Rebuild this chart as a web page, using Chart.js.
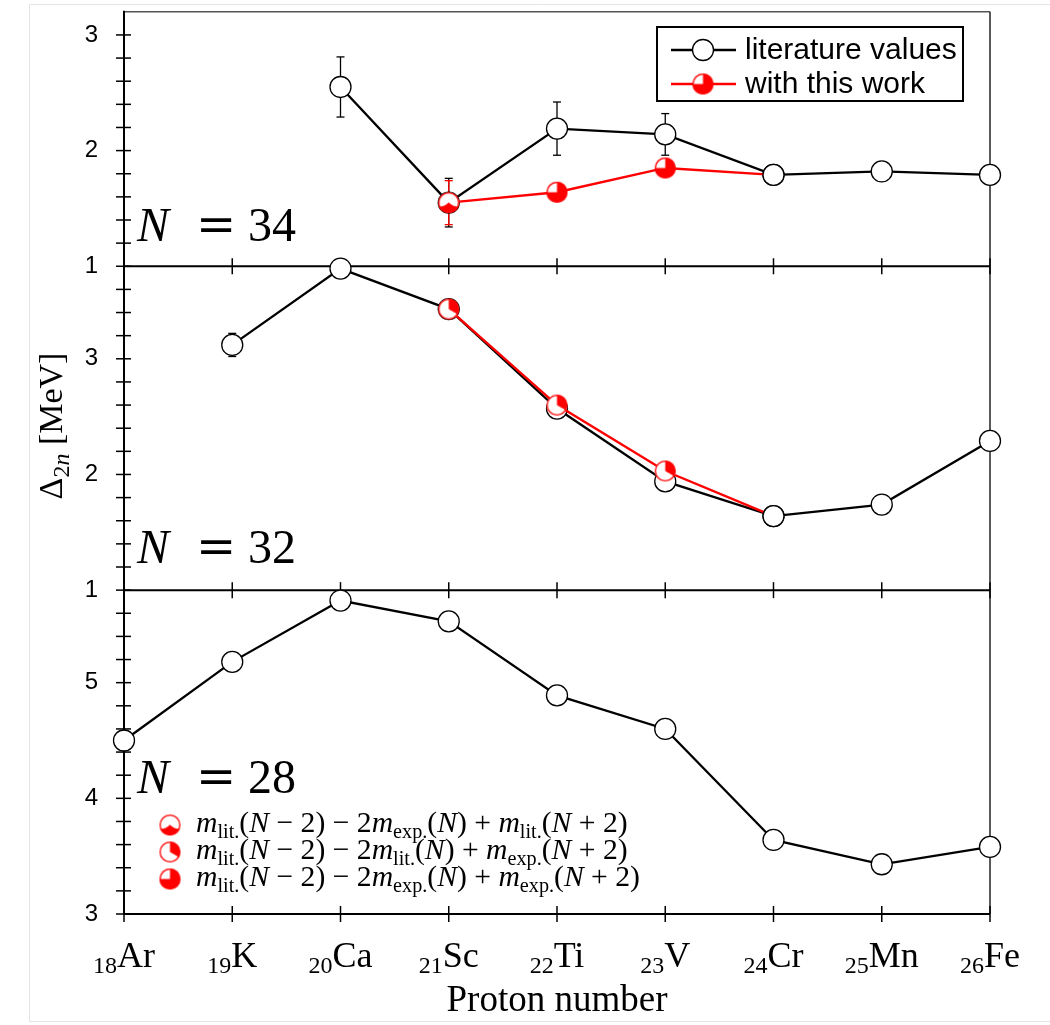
<!DOCTYPE html>
<html>
<head>
<meta charset="utf-8">
<title>Two-neutron shell gap</title>
<script src="https://cdn.jsdelivr.net/npm/chart.js@4.4.1/dist/chart.umd.min.js"></script>
<style>
  html, body { margin: 0; padding: 0; background: #fff; }
  canvas { display: block; }
</style>
</head>
<body>
<canvas id="c" width="1050" height="1025"></canvas>
<script>
// ---- data -------------------------------------------------------------
const protonNumbers = [18, 19, 20, 21, 22, 23, 24, 25, 26];
const elementSymbols = ['Ar', 'K', 'Ca', 'Sc', 'Ti', 'V', 'Cr', 'Mn', 'Fe'];

// N = 34
const lit34 = [null, null, 2.55, 1.55, 2.19, 2.14, 1.79, 1.82, 1.79];
const lit34Err = [0, 0, 0.26, 0.21, 0.23, 0.18, 0, 0, 0];
const work34 = [null, null, null, 1.55, 1.64, 1.85, 1.79, null, null];
const work34Err = [0, 0, 0, 0.19, 0, 0, 0, 0, 0];
const work34Kind = [null, null, null, 'A', 'C', 'C', null, null, null];

// N = 32
const lit32 = [null, 3.12, 3.78, 3.43, 2.57, 1.94, 1.64, 1.74, 2.29];
const lit32Err = [0, 0.10, 0, 0, 0.03, 0, 0, 0, 0];
const work32 = [null, null, null, 3.43, 2.60, 2.03, 1.64, null, null];
const work32Kind = [null, null, null, 'B', 'B', 'B', null, null, null];

// N = 28
const lit28 = [4.50, 5.18, 5.71, 5.53, 4.89, 4.60, 3.64, 3.43, 3.58];

// axis ranges of the three stacked panels (top to bottom)
const panelIds = ['y34', 'y32', 'y28'];
const panelRanges = { y34: [1, 3.2], y32: [1, 3.8], y28: [3, 5.8] };
const panelNumbers = { y34: '34', y32: '32', y28: '28' };

// ---- styling ------------------------------------------------------------
const RED = '#ff0000';
const BLACK = '#000000';
const R = 10.5;
const SERIF = '"Liberation Serif", "Times New Roman", serif';
const SANS = '"Liberation Sans", Arial, sans-serif';

// partially filled red markers used for the new values
function makeMarker(kind, r) {
  const s = Math.ceil(2 * r + 4);
  const c = document.createElement('canvas');
  c.width = s; c.height = s;
  const g = c.getContext('2d');
  const cx = s / 2, cy = s / 2;
  g.beginPath(); g.arc(cx, cy, r, 0, 2 * Math.PI);
  g.fillStyle = kind === 'C' ? RED : '#fff'; g.fill();
  g.save();
  g.beginPath(); g.arc(cx, cy, r, 0, 2 * Math.PI); g.clip();
  if (kind === 'A') {
    g.beginPath();
    g.moveTo(cx - r, cy + 0.38 * r);
    g.quadraticCurveTo(cx - 0.35 * r, cy + 0.38 * r, cx, cy - 0.02 * r);
    g.quadraticCurveTo(cx + 0.35 * r, cy + 0.38 * r, cx + r, cy + 0.38 * r);
    g.lineTo(cx + r, cy + r); g.lineTo(cx - r, cy + r); g.closePath();
    g.fillStyle = RED; g.fill();
  } else if (kind === 'B') {
    g.beginPath(); g.moveTo(cx, cy);
    g.arc(cx, cy, r, -Math.PI / 2, Math.PI / 6); g.closePath();
    g.fillStyle = RED; g.fill();
  } else if (kind === 'C') {
    g.beginPath(); g.moveTo(cx, cy);
    g.arc(cx, cy, r, Math.PI, 1.5 * Math.PI); g.closePath();
    g.fillStyle = '#fff'; g.fill();
  }
  g.restore();
  g.beginPath(); g.arc(cx, cy, r - 0.6, 0, 2 * Math.PI);
  g.lineWidth = 1.3; g.strokeStyle = RED; g.stroke();
  return c;
}
const markers = { A: makeMarker('A', R), B: makeMarker('B', R), C: makeMarker('C', R) };

function toPoints(values) {
  return protonNumbers.map((z, i) => ({ x: z, y: values[i] }));
}

// indices where a red curve ends on a literature point without its own marker
function coveredIndices(work, kinds) {
  return work.map((v, i) => (v !== null && !kinds[i]) ? i : -1).filter(i => i >= 0);
}

function litDataset(label, values, errors, axis, cover) {
  return {
    label, data: toPoints(values), yAxisID: axis, errors,
    borderColor: BLACK, borderWidth: 2.3, backgroundColor: '#fff',
    pointStyle: 'circle', pointRadius: R, pointBackgroundColor: '#fff',
    pointBorderColor: BLACK, pointBorderWidth: 1.3,
    tension: 0, clip: false, order: 2, redrawPoints: cover || []
  };
}
function workDataset(label, values, errors, kinds, axis) {
  return {
    label, data: toPoints(values), yAxisID: axis, errors,
    borderColor: RED, borderWidth: 2.4, backgroundColor: RED,
    pointStyle: kinds.map(k => k ? markers[k] : 'circle'),
    pointRadius: kinds.map(k => k ? R : 0),
    tension: 0, clip: false, order: 1
  };
}

const datasets = [
  litDataset('literature values N=34', lit34, lit34Err, 'y34', coveredIndices(work34, work34Kind)),
  workDataset('with this work N=34', work34, work34Err, work34Kind, 'y34'),
  litDataset('literature values N=32', lit32, lit32Err, 'y32', coveredIndices(work32, work32Kind)),
  workDataset('with this work N=32', work32, null, work32Kind, 'y32'),
  litDataset('literature values N=28', lit28, null, 'y28', [])
];

function yScale(id, weight, stackWeight) {
  const [lo, hi] = panelRanges[id];
  return {
    type: 'linear', position: 'left', stack: 'panels', stackWeight, weight,
    min: lo, max: hi, offset: false,
    grid: { display: false, drawTicks: false },
    border: { display: false },
    ticks: {
      stepSize: 0.2, maxTicksLimit: 100, autoSkip: false, padding: 26,
      color: BLACK, font: { family: SANS, size: 24 },
      callback: v => (Math.abs(v - Math.round(v)) < 1e-6 && v < hi - 1e-6) ? String(Math.round(v)) : ''
    },
    afterFit: s => { s.width = 86; s.paddingTop = 0; s.paddingBottom = 0; }
  };
}

// ---- drawing helpers ---------------------------------------------------
function seg(ctx, x1, y1, x2, y2) {
  ctx.beginPath(); ctx.moveTo(x1, y1); ctx.lineTo(x2, y2); ctx.stroke();
}
// runs: [text, font, baselineShift]
function runsWidth(ctx, runs) {
  let w = 0;
  runs.forEach(r => { ctx.font = r[1]; w += ctx.measureText(r[0]).width; });
  return w;
}
function drawRuns(ctx, runs, x, y, align) {
  const w = runsWidth(ctx, runs);
  let cx = align === 'center' ? x - w / 2 : x;
  ctx.textAlign = 'left';
  ctx.textBaseline = 'alphabetic';
  runs.forEach(r => {
    ctx.font = r[1];
    ctx.fillText(r[0], cx, y + (r[2] || 0));
    cx += ctx.measureText(r[0]).width;
  });
  return w;
}
function openCircle(ctx, x, y, r) {
  ctx.beginPath(); ctx.arc(x, y, r, 0, 2 * Math.PI);
  ctx.fillStyle = '#fff'; ctx.fill();
  ctx.lineWidth = 1.3; ctx.strokeStyle = BLACK; ctx.stroke();
}
function formulaRuns(f, a, b, c) {
  const it = `italic ${f}px ${SERIF}`, rm = `${f}px ${SERIF}`, sb = `${(0.68 * f).toFixed(1)}px ${SERIF}`;
  const d = 0.2 * f;
  return [
    ['m', it], [a, sb, d], ['(', rm], ['N', it], [' \u2212 2) \u2212 2', rm],
    ['m', it], [b, sb, d], ['(', rm], ['N', it], [') + ', rm],
    ['m', it], [c, sb, d], ['(', rm], ['N', it], [' + 2)', rm]
  ];
}
const formulaRows = [
  ['A', 'lit.', 'exp.', 'lit.'],
  ['B', 'lit.', 'lit.', 'exp.'],
  ['C', 'lit.', 'exp.', 'exp.']
];

// ---- plugins -----------------------------------------------------------
const panelFrame = {
  id: 'panelFrame',
  beforeDraw(chart) {
    // thin page border around the figure
    const { ctx } = chart;
    ctx.save();
    ctx.strokeStyle = '#e4e4e4'; ctx.lineWidth = 1;
    seg(ctx, 29.5, 4.5, 29.5, 1021.5);
    seg(ctx, 29.5, 4.5, 1050, 4.5);
    seg(ctx, 29.5, 1021.5, 1050, 1021.5);
    ctx.restore();
  },
  beforeDatasetsDraw(chart) {
    const { ctx, chartArea: a } = chart;
    const xs = chart.scales.x;
    ctx.save();
    ctx.lineCap = 'butt';
    ctx.strokeStyle = '#555'; ctx.lineWidth = 1.5;
    seg(ctx, a.left, a.top, a.right, a.top);
    ctx.strokeStyle = '#222';
    seg(ctx, a.right, a.top, a.right, a.bottom);
    ctx.strokeStyle = BLACK; ctx.lineWidth = 2;
    seg(ctx, a.left, a.top - 1, a.left, a.bottom + 1);
    panelIds.forEach(id => {
      const s = chart.scales[id];
      ctx.lineWidth = 2;
      seg(ctx, a.left, s.bottom, a.right, s.bottom);
      ctx.lineWidth = 1.5;
      s.ticks.forEach(t => {
        if (t.value >= s.max - 1e-9) return;
        const y = s.getPixelForValue(t.value);
        seg(ctx, a.left - 8, y, a.left + 7, y);
      });
      xs.ticks.forEach(t => {
        const x = xs.getPixelForValue(t.value);
        seg(ctx, x, s.bottom - 8, x, s.bottom + 8);
      });
    });
    // error bars sit under the markers
    chart.data.datasets.forEach((ds, di) => {
      if (!ds.errors) return;
      const meta = chart.getDatasetMeta(di);
      const ys = chart.scales[ds.yAxisID];
      ctx.strokeStyle = ds.borderColor; ctx.lineWidth = 1.3;
      ds.data.forEach((p, i) => {
        const e = ds.errors[i];
        if (p.y === null || !e) return;
        const x = meta.data[i].x;
        const y1 = ys.getPixelForValue(p.y - e), y2 = ys.getPixelForValue(p.y + e);
        seg(ctx, x, y1, x, y2);
        seg(ctx, x - 4, y1, x + 4, y1);
        seg(ctx, x - 4, y2, x + 4, y2);
      });
    });
    ctx.restore();
  },
  afterDatasetsDraw(chart) {
    // literature points where a red line ends are drawn on top of it
    chart.data.datasets.forEach((ds, di) => {
      (ds.redrawPoints || []).forEach(i => {
        const el = chart.getDatasetMeta(di).data[i];
        if (el) el.draw(chart.ctx, chart.chartArea);
      });
    });
  }
};

const annotations = {
  id: 'annotations',
  afterDraw(chart) {
    const { ctx } = chart;
    const xs = chart.scales.x;
    ctx.save();
    ctx.fillStyle = BLACK;

    // element labels with proton-number subscripts
    protonNumbers.forEach((z, i) => {
      const x = xs.getPixelForValue(z);
      drawRuns(ctx, [[String(z), `24px ${SERIF}`, 6], [elementSymbols[i], `36px ${SERIF}`, 0]], x, 967, 'center');
    });

    // y-axis title
    ctx.save();
    ctx.translate(62, 426);
    ctx.rotate(-Math.PI / 2);
    drawRuns(ctx, [
      ['\u0394', `34px ${SERIF}`, 0], ['2', `24px ${SERIF}`, 7], ['n', `italic 24px ${SERIF}`, 7],
      [' [MeV]', `34px ${SERIF}`, 0]
    ], 0, 0, 'center');
    ctx.restore();

    // panel labels
    const baselines = { y34: 241, y32: 563, y28: 793 };
    panelIds.forEach(id => {
      const y = baselines[id];
      ctx.textAlign = 'left'; ctx.textBaseline = 'alphabetic';
      ctx.font = `italic 48px ${SERIF}`;
      ctx.fillText('N', 137, y);
      ctx.font = `48px "DejaVu Serif", serif`;
      ctx.fillText('=', 196, y);
      ctx.font = `48px ${SERIF}`;
      ctx.fillText(panelNumbers[id], 248, y);
    });

    // series legend
    const bx = 657, by = 27, bw = 306, bh = 74;
    ctx.fillStyle = '#fff';
    ctx.fillRect(bx, by, bw, bh);
    ctx.strokeStyle = BLACK; ctx.lineWidth = 2;
    ctx.strokeRect(bx, by, bw, bh);
    const rows = [{ y: 50, color: BLACK, text: 'literature values' }, { y: 84, color: RED, text: 'with this work' }];
    rows.forEach((r, k) => {
      ctx.strokeStyle = r.color; ctx.lineWidth = 2.4;
      seg(ctx, 671, r.y, 736, r.y);
      if (k === 0) openCircle(ctx, 703, r.y, R);
      else ctx.drawImage(markers.C, 703 - markers.C.width / 2, r.y - markers.C.height / 2);
      ctx.fillStyle = BLACK;
      ctx.font = `30px ${SANS}`;
      ctx.textAlign = 'left'; ctx.textBaseline = 'middle';
      ctx.fillText(r.text, 745, r.y + 1);
    });

    // marker key for the three mass combinations
    let f = 22;
    const w0 = runsWidth(ctx, formulaRuns(f, 'lit.', 'exp.', 'lit.'));
    f = f * 432 / w0;
    const rowY = [825, 852, 879];
    formulaRows.forEach((row, k) => {
      const m = markers[row[0]];
      ctx.drawImage(m, 170 - m.width / 2, rowY[k] - m.height / 2);
      ctx.fillStyle = BLACK;
      drawRuns(ctx, formulaRuns(f, row[1], row[2], row[3]), 196, rowY[k] + 7, 'left');
    });
    ctx.restore();
  }
};

// ---- chart -------------------------------------------------------------
new Chart(document.getElementById('c'), {
  type: 'line',
  data: { datasets },
  options: {
    responsive: false,
    animation: false,
    devicePixelRatio: 1,
    events: [],
    layout: { padding: { left: 38, right: 60, top: 9, bottom: 0 } },
    plugins: { legend: { display: false }, tooltip: { enabled: false } },
    scales: {
      x: {
        type: 'linear', position: 'bottom', min: 18, max: 26,
        ticks: { display: false, stepSize: 1 },
        grid: { display: false, drawTicks: false },
        border: { display: false },
        title: {
          display: true, text: 'Proton number', color: BLACK,
          font: { family: SERIF, size: 37 }, padding: { top: 0, bottom: 2 }
        },
        afterFit: s => { s.height = 111; s.paddingLeft = 0; s.paddingRight = 0; }
      },
      y34: yScale('y34', 3, 2.2),
      y32: yScale('y32', 2, 2.8),
      y28: yScale('y28', 1, 2.8)
    }
  },
  plugins: [panelFrame, annotations]
});
</script>
</body>
</html>
